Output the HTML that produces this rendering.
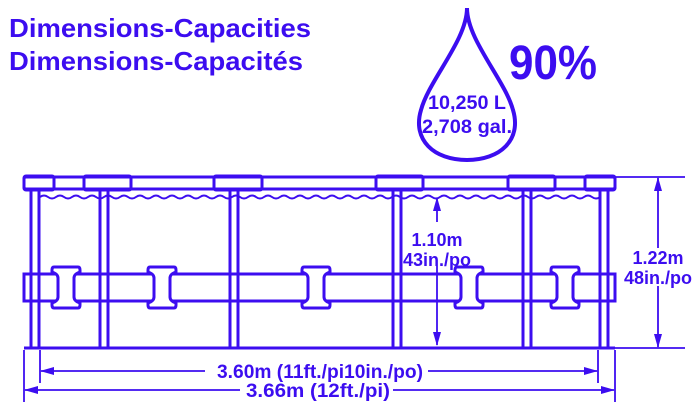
<!DOCTYPE html>
<html><head><meta charset="utf-8"><style>html,body{margin:0;padding:0;background:#fff}svg{display:block}</style></head>
<body>
<svg width="700" height="410" viewBox="0 0 700 410" xmlns="http://www.w3.org/2000/svg" font-family="Liberation Sans, sans-serif" font-weight="bold" fill="#3c0df0">
<defs>
<marker id="a" markerWidth="14" markerHeight="8" refX="13" refY="4" orient="auto" markerUnits="userSpaceOnUse"><path d="M0,0 L14,4 L0,8 Z" fill="#3c0df0"/></marker>
<clipPath id="c"><rect x="38" y="185" width="562" height="20"/></clipPath>
</defs>
<text x="9" y="37" font-size="26" textLength="302" lengthAdjust="spacingAndGlyphs">Dimensions-Capacities</text>
<text x="9" y="70" font-size="26" textLength="294" lengthAdjust="spacingAndGlyphs">Dimensions-Capacités</text>
<text x="509" y="79" font-size="48" textLength="88" lengthAdjust="spacingAndGlyphs">90%</text>
<g fill="none" stroke="#3c0df0">
<path d="M467,8 C467,40 505,80 513,110 C522,140 500,160 467,160 C434,160 412,140 421,110 C429,80 467,40 467,8 Z" stroke-width="4"/>
<g stroke-width="3">
<rect x="24" y="177" width="591" height="12" rx="2"/>
<line x1="24" y1="348" x2="615" y2="348"/>
<path d="M24,274 H615 V301 H24 Z"/>
</g>
<g stroke-width="3">
<rect x="24" y="176" width="30" height="14" rx="2"/>
<rect x="84" y="176" width="47" height="14" rx="2"/>
<rect x="214" y="176" width="48" height="14" rx="2"/>
<rect x="376" y="176" width="47" height="14" rx="2"/>
<rect x="508" y="176" width="47" height="14" rx="2"/>
<rect x="585" y="176" width="30" height="14" rx="2"/>
</g>
<path clip-path="url(#c)" d="M40,197 q4,-3 8,0 t8,0 t8,0 t8,0 t8,0 t8,0 t8,0 t8,0 t8,0 t8,0 t8,0 t8,0 t8,0 t8,0 t8,0 t8,0 t8,0 t8,0 t8,0 t8,0 t8,0 t8,0 t8,0 t8,0 t8,0 t8,0 t8,0 t8,0 t8,0 t8,0 t8,0 t8,0 t8,0 t8,0 t8,0 t8,0 t8,0 t8,0 t8,0 t8,0 t8,0 t8,0 t8,0 t8,0 t8,0 t8,0 t8,0 t8,0 t8,0 t8,0 t8,0 t8,0 t8,0 t8,0 t8,0 t8,0 t8,0 t8,0 t8,0 t8,0 t8,0 t8,0 t8,0 t8,0 t8,0 t8,0 t8,0 t8,0 t8,0 t8,0 t8,0 t8,0 t8,0" stroke-width="2"/>
<g stroke-width="3">
<rect x="31" y="190" width="8" height="158"/>
<rect x="100" y="190" width="8" height="158"/>
<rect x="230" y="190" width="8" height="158"/>
<rect x="393" y="190" width="8" height="158"/>
<rect x="523" y="190" width="8" height="158"/>
<rect x="600" y="190" width="8" height="158"/>
</g>
<g fill="#fff" stroke-width="3">
<path id="h" d="M54,267 H78 Q80,267 80,270 V272 Q74,274 74,278 V297 Q74,301 80,303 V305 Q80,308 78,308 H54 Q52,308 52,305 V303 Q58,301 58,297 V278 Q58,274 52,272 V270 Q52,267 54,267 Z"/>
<use href="#h" x="96"/>
<use href="#h" x="250"/>
<use href="#h" x="403"/>
<use href="#h" x="499"/>
</g>
<g stroke-width="1.8">
<line x1="40" y1="350" x2="40" y2="383"/>
<line x1="598" y1="350" x2="598" y2="383"/>
<line x1="24" y1="350" x2="24" y2="402"/>
<line x1="615" y1="350" x2="615" y2="402"/>
<line x1="615" y1="177" x2="685" y2="177"/>
<line x1="615" y1="348" x2="685" y2="348"/>
<line x1="205" y1="371" x2="41" y2="371" marker-end="url(#a)"/>
<line x1="428" y1="371" x2="597" y2="371" marker-end="url(#a)"/>
<line x1="240" y1="390" x2="25" y2="390" marker-end="url(#a)"/>
<line x1="393" y1="390" x2="614" y2="390" marker-end="url(#a)"/>
<line x1="658" y1="248" x2="658" y2="178" marker-end="url(#a)"/>
<line x1="658" y1="286" x2="658" y2="347" marker-end="url(#a)"/>
<line x1="437" y1="222" x2="437" y2="198" marker-end="url(#a)"/>
<line x1="437" y1="266" x2="437" y2="345" marker-end="url(#a)"/>
</g>
</g>
<text x="467" y="109" font-size="19" text-anchor="middle" textLength="78" lengthAdjust="spacingAndGlyphs">10,250 L</text>
<text x="467" y="133" font-size="19" text-anchor="middle" textLength="90" lengthAdjust="spacingAndGlyphs">2,708 gal.</text>
<text x="437" y="246" font-size="18" text-anchor="middle">1.10m</text>
<text x="437" y="266" font-size="18" text-anchor="middle">43in./po</text>
<text x="658" y="264" font-size="18" text-anchor="middle">1.22m</text>
<text x="658" y="284" font-size="18" text-anchor="middle">48in./po</text>
<text x="320" y="378" font-size="19" text-anchor="middle" textLength="206" lengthAdjust="spacingAndGlyphs">3.60m (11ft./pi10in./po)</text>
<text x="318" y="397" font-size="19" text-anchor="middle" textLength="144" lengthAdjust="spacingAndGlyphs">3.66m (12ft./pi)</text>
</svg>
</body></html>
